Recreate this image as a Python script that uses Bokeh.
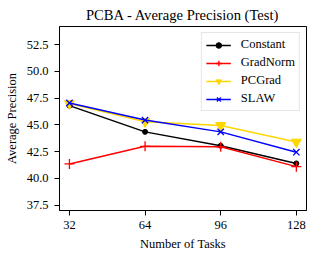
from bokeh.plotting import figure
from bokeh.models import FixedTicker, Range1d, Legend, LegendItem, CustomJSTickFormatter
from bokeh.embed import file_html
from bokeh.resources import INLINE

tasks = [32, 64, 96, 128]
constant = [46.8, 44.35, 43.05, 41.4]
gradnorm = [41.35, 43.0, 42.95, 41.1]
pcgrad = [47.0, 45.3, 44.95, 43.4]
slaw = [47.05, 45.45, 44.35, 42.45]
y_ticks = [37.5, 40.0, 42.5, 45.0, 47.5, 50.0, 52.5]

FONT = "Liberation Serif"

p = figure(frame_width=247, frame_height=184, output_backend="svg", toolbar_location=None,
           x_range=Range1d(27.8, 132.3), y_range=Range1d(37.0, 54.2),
           title="PCBA - Average Precision (Test)",
           min_border_left=59, min_border_right=2, min_border_top=0, min_border_bottom=8)

p.title.text_font = FONT
p.title.text_font_size = "14.6px"
p.title.text_font_style = "normal"
p.title.align = "center"
p.title.text_color = "black"
p.title.standoff = 8

p.xgrid.visible = False
p.ygrid.visible = False
p.outline_line_color = "black"
p.outline_line_width = 1
p.outline_line_alpha = 1

for ax in (p.xaxis[0], p.yaxis[0]):
    ax.axis_label_text_font = FONT
    ax.axis_label_text_font_size = "12.5px"
    ax.axis_label_text_font_style = "normal"
    ax.axis_label_text_color = "black"
    ax.major_label_text_font = FONT
    ax.major_label_text_font_size = "12.5px"
    ax.major_label_text_color = "black"
    ax.axis_line_color = "black"
    ax.major_tick_line_color = "black"
    ax.major_tick_in = 0
    ax.major_tick_out = 5
    ax.minor_tick_line_color = None
    ax.axis_label_standoff = 5
    ax.major_label_standoff = 5

p.yaxis.major_label_standoff = 6
p.xaxis.axis_label = "Number of Tasks"
p.yaxis.axis_label = "Average Precision"
p.xaxis.ticker = FixedTicker(ticks=tasks)
p.yaxis.ticker = FixedTicker(ticks=y_ticks)
p.yaxis.formatter = CustomJSTickFormatter(code="return tick.toFixed(1);")

items = []
l1 = p.line(tasks, constant, color="black", line_width=1.5)
m1 = p.scatter(tasks, constant, marker="circle", size=5, color="black")
items.append(LegendItem(label="Constant", renderers=[l1, m1]))
l2 = p.line(tasks, gradnorm, color="red", line_width=1.5)
m2 = p.scatter(tasks, gradnorm, marker="cross", size=10, line_color="red", line_width=1.3)
items.append(LegendItem(label="GradNorm", renderers=[l2, m2]))
l3 = p.line(tasks, pcgrad, color="#FFD700", line_width=1.5)
m3 = p.scatter(tasks, pcgrad, marker="inverted_triangle", size=10, color="#FFD700")
items.append(LegendItem(label="PCGrad", renderers=[l3, m3]))
l4 = p.line(tasks, slaw, color="blue", line_width=1.5)
m4 = p.scatter(tasks, slaw, marker="x", size=9, line_color="blue", line_width=1.3)
items.append(LegendItem(label="SLAW", renderers=[l4, m4]))

legend = Legend(items=items, location="top_right")
legend.label_text_font = FONT
legend.label_text_font_size = "12.5px"
legend.label_text_color = "black"
legend.border_line_color = "#cccccc"
legend.border_line_width = 1
legend.background_fill_alpha = 0.8
legend.glyph_width = 25
legend.glyph_height = 14
legend.label_height = 14
legend.label_standoff = 10
legend.spacing = 3
legend.padding = 4
legend.margin = 6
p.add_layout(legend, "center")

open("out.html", "w").write(file_html(p, INLINE))
